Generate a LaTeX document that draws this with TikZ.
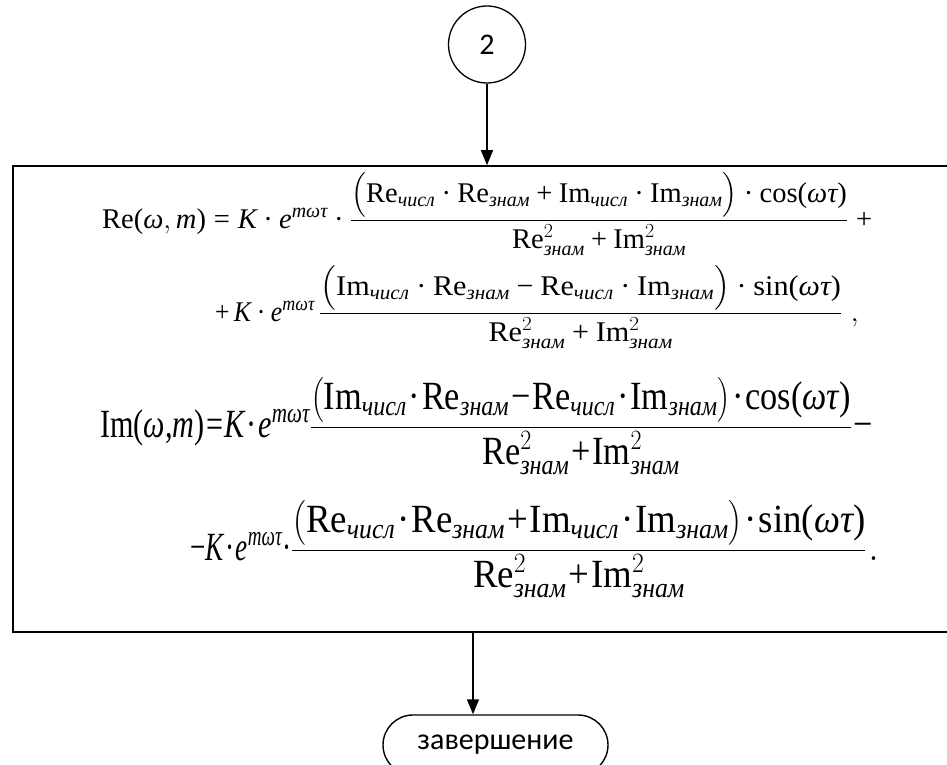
\RequirePackage{fix-cm}
\documentclass[tikz,border=0pt]{standalone}
\usepackage{amsmath}
\usepackage{graphicx}
\usepackage{fontspec}
\setmainfont{Liberation Serif}
\newfontfamily\calibrifont{Carlito}
\usetikzlibrary{arrows.meta,shapes.misc}
\newcommand\ti[1]{\text{\itshape #1}}
\newcommand\tr[1]{\text{#1}}
\newcommand\sbz[1]{_{\text{\itshape #1}}}
\newcommand\Eq{\mathrel{\text{=}}}
\newcommand\Pl{\mathbin{\text{+}}}
\newcommand\Mi{\mathbin{\text{−}}}
\newcommand\Cd{\mathbin{\text{·}}}
\newcommand\Lp{\text{(}}
\newcommand\Rp{\text{)}}
\newcommand\tightmath{\medmuskip=1mu\thickmuskip=1mu}
\tikzset{
  conn/.style={draw, line width=1.4pt, -{Triangle[width=12pt,length=15pt]}},
  procbox/.style={draw, line width=1.6pt, rectangle, minimum width=947pt, minimum height=466pt, inner sep=0pt},
  connector/.style={draw, circle, line width=1.3pt, minimum size=77pt, inner sep=0pt, font={\calibrifont\fontsize{30}{36}\selectfont}},
  terminal/.style={draw, rounded rectangle, line width=1.4pt, minimum width=225pt, minimum height=60pt, inner sep=0pt, font={\calibrifont\fontsize{30}{36}\selectfont}},
  fsmall/.style={anchor=base west, inner sep=0pt, font={\fontsize{28.5}{34}\selectfont}},
  fbig/.style={anchor=base west, inner sep=0pt, font={\fontsize{40}{46}\selectfont}}
}
\begin{document}
\begin{tikzpicture}[x=1pt,y=-1pt]
\useasboundingbox (0,0) rectangle (947,765);
\node[connector] (c2) at (487,44.5) {2};
\node[procbox] (box) at (486.5,399) {};
\node[terminal] (term) at (495.5,745) {завершение};
\coordinate (b1) at (473,632);
\draw[conn] (c2) -- (c2 |- box.north);
\draw[conn] (b1) -- (b1 |- term.north);
\node[fsmall] (l1) at (102,228) {$\tr{Re}\Lp\ti{ω},\ti{m}\Rp\Eq\ti{K}\Cd\ti{e}^{\ti{mωτ}}\Cd\dfrac{\bigl(\tr{Re}\sbz{числ}\Cd\tr{Re}\sbz{знам}\Pl\tr{Im}\sbz{числ}\Cd\tr{Im}\sbz{знам}\bigr)\Cd\tr{cos}\Lp\ti{ωτ}\Rp}{\tr{Re}^{2}\sbz{знам}\Pl\tr{Im}^{2}\sbz{знам}}\;\tr{+}$};
\node[fsmall] (l2) at (215,321) {\scalebox{0.9}[1]{$\tr{+}\,\ti{K}\Cd\ti{e}^{\ti{mωτ}}\,$}\scalebox{1.06}[1]{$\dfrac{\bigl(\tr{Im}\sbz{числ}\Cd\tr{Re}\sbz{знам}\Mi\tr{Re}\sbz{числ}\Cd\tr{Im}\sbz{знам}\bigr)\Cd\tr{sin}\Lp\ti{ωτ}\Rp}{\tr{Re}^{2}\sbz{знам}\Pl\tr{Im}^{2}\sbz{знам}}\;,$}};
\node[fbig] (l3) at (100,437) {\scalebox{0.755}[1]{$\tightmath\tr{Im}\Lp\ti{ω}\tr{,}\ti{m}\Rp\Eq\ti{K}\Cd\ti{e}^{\ti{mωτ}}$}\scalebox{0.857}[1]{$\tightmath\dfrac{\bigl(\tr{Im}\sbz{числ}\Cd\tr{Re}\sbz{знам}\Mi\tr{Re}\sbz{числ}\Cd\tr{Im}\sbz{знам}\bigr)\Cd\tr{cos}\Lp\ti{ωτ}\Rp}{\tr{Re}^{2}\sbz{знам}\Pl\tr{Im}^{2}\sbz{знам}}\;\tr{−}$}};
\node[fbig] (l4) at (190,560) {\scalebox{0.68}[1]{$\tightmath\tr{−}\ti{K}\Cd\ti{e}^{\ti{mωτ}}\Cd$}\scalebox{0.92}[1]{$\tightmath\dfrac{\bigl(\tr{Re}\sbz{числ}\Cd\tr{Re}\sbz{знам}\Pl\tr{Im}\sbz{числ}\Cd\tr{Im}\sbz{знам}\bigr)\Cd\tr{sin}\Lp\ti{ωτ}\Rp}{\tr{Re}^{2}\sbz{знам}\Pl\tr{Im}^{2}\sbz{знам}}\;.$}};
\end{tikzpicture}
\end{document}
